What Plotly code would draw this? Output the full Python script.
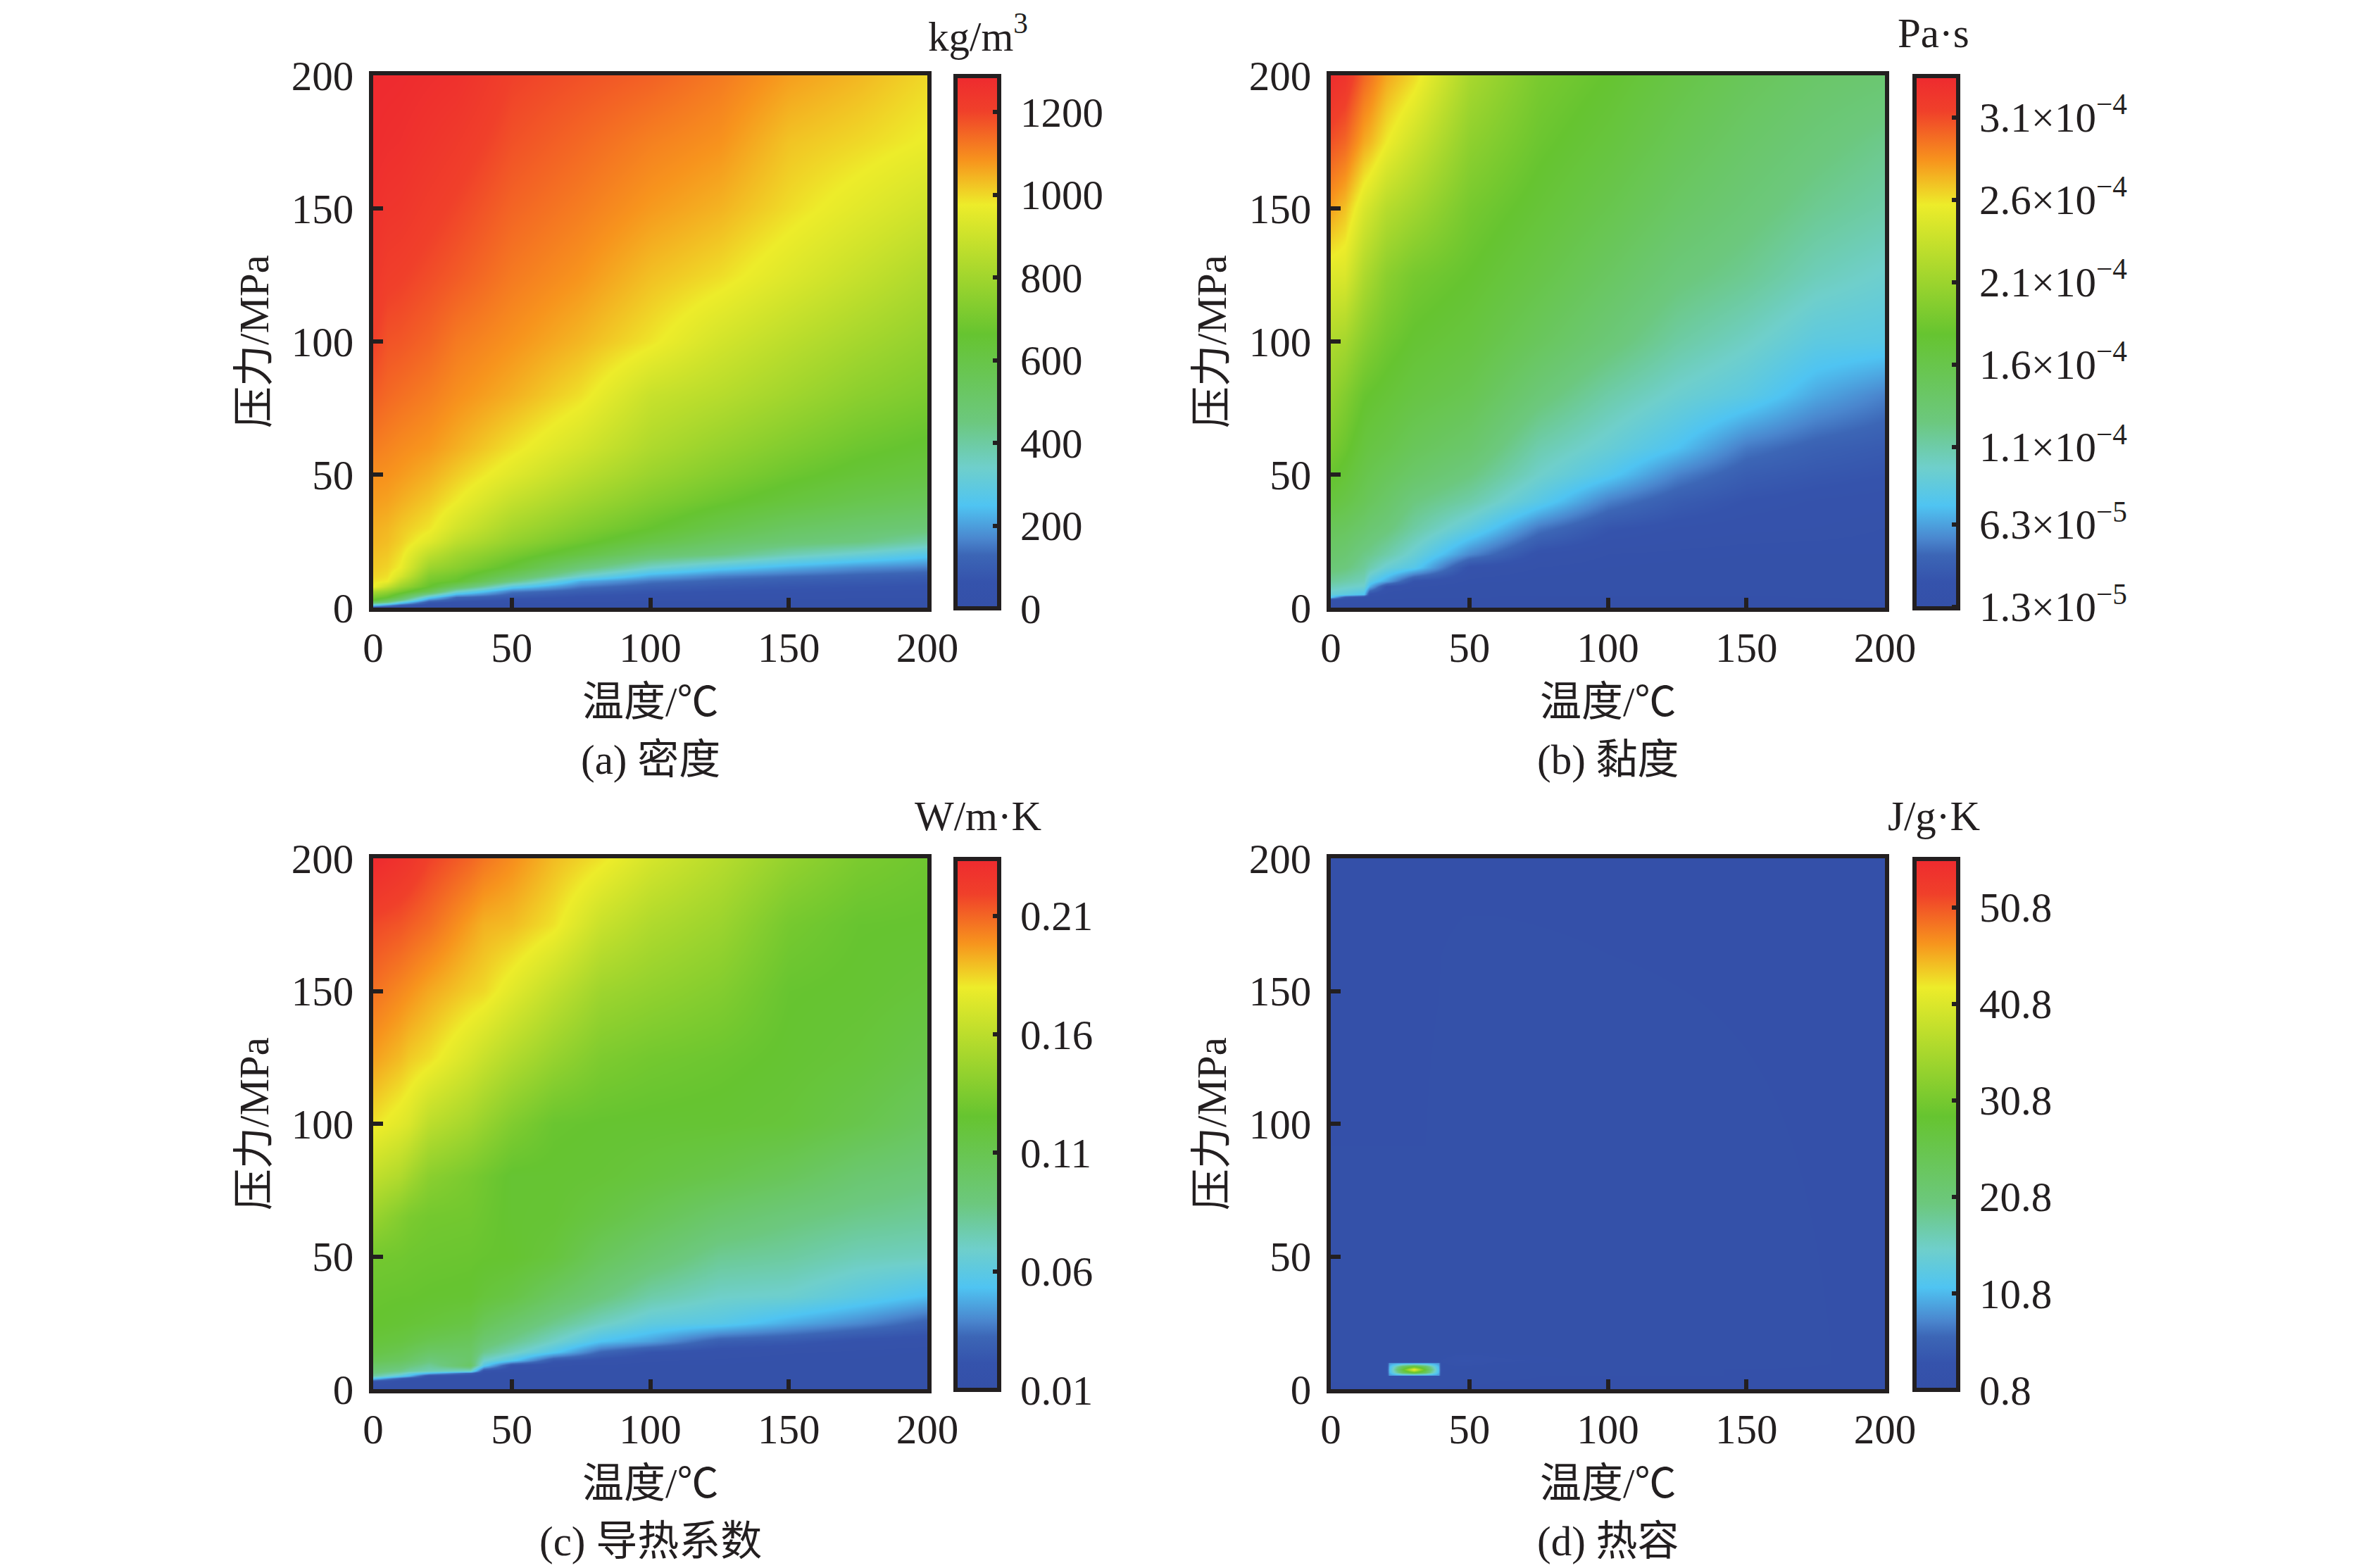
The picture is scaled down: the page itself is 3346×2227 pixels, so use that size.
import numpy as np
import plotly.graph_objects as go

W = 3346
H = 2227
M = 100
INK = "#231F20"
FONT = "Liberation Serif, Noto Sans CJK SC"

# colour ramp
ramp = [
    [0.0, "#3450A8"], [0.05, "#3553AC"], [0.10, "#3C66B6"], [0.13, "#4A86CE"],
    [0.193, "#4FC4F2"], [0.265, "#6FCFCB"], [0.35, "#6CC87E"], [0.515, "#66C430"],
    [0.758, "#EDEC2A"], [0.841, "#F7941D"], [0.934, "#F0402A"], [1.0, "#EE2A2F"],
]

# (a) density, kg/m3, one list per temperature
density_t = [0, 5, 10, 20, 30, 50, 75, 100, 125, 150, 175, 200]
density_p = [0, 1, 2, 3, 4, 6, 8, 10, 12, 15, 20, 25, 30, 40, 50, 60, 80, 100, 125, 150, 175, 200]
density_cols = [
    [30, 290, 520, 663, 715, 820, 976, 990, 1005, 1018, 1030, 1042, 1050, 1072, 1090, 1115, 1160, 1202, 1235, 1260, 1278, 1287],
    [25, 200, 450, 550, 663, 770, 880, 976, 990, 1005, 1020, 1032, 1040, 1065, 1085, 1105, 1145, 1175, 1212, 1245, 1270, 1285],
    [20, 120, 300, 450, 555, 700, 790, 860, 920, 970, 990, 1010, 1020, 1050, 1075, 1095, 1135, 1170, 1205, 1240, 1265, 1282],
    [15, 40, 90, 170, 280, 560, 663, 700, 730, 790, 870, 945, 985, 1020, 1050, 1078, 1115, 1150, 1185, 1215, 1245, 1270],
    [12, 30, 60, 90, 130, 340, 530, 663, 690, 745, 800, 865, 915, 976, 1015, 1050, 1090, 1120, 1165, 1195, 1225, 1260],
    [10, 20, 40, 60, 85, 150, 280, 450, 540, 640, 710, 770, 810, 880, 945, 990, 1050, 1085, 1120, 1150, 1178, 1202],
    [9, 18, 30, 45, 60, 100, 150, 220, 340, 470, 610, 685, 730, 800, 860, 915, 990, 1040, 1082, 1115, 1145, 1178],
    [8, 15, 25, 38, 50, 75, 105, 150, 215, 340, 500, 600, 663, 730, 785, 830, 890, 985, 1030, 1075, 1110, 1155],
    [7, 14, 22, 33, 45, 65, 85, 120, 160, 270, 450, 525, 590, 675, 730, 775, 850, 915, 995, 1045, 1085, 1120],
    [7, 13, 20, 30, 40, 58, 75, 100, 135, 220, 375, 480, 530, 625, 680, 725, 800, 860, 940, 995, 1025, 1070],
    [6, 12, 18, 27, 36, 52, 68, 90, 115, 180, 325, 450, 495, 580, 640, 680, 750, 810, 885, 950, 1000, 1040],
    [6, 11, 17, 25, 33, 48, 62, 80, 100, 160, 270, 390, 470, 550, 610, 650, 715, 765, 830, 905, 970, 1000],
]

# (b) viscosity, 1e-5 Pa s
viscosity_t = [0, 5, 12, 14, 20, 30, 50, 75, 100, 125, 150, 175, 200]
viscosity_p = [0, 3, 4, 5, 8, 10, 15, 20, 30, 40, 50, 60, 80, 100, 125, 150, 175, 200]
viscosity_cols = [
    [1.3, 2.0, 7.5, 9, 10.5, 11.5, 13, 13.8, 15, 16.8, 18, 19, 20.5, 22, 24.8, 28, 30.7, 33.2],
    [1.3, 1.6, 3.5, 8.5, 10, 11, 12.6, 13.4, 14.7, 16.2, 17.3, 18.2, 19.5, 21.5, 24.6, 27, 30, 32.5],
    [1.3, 1.5, 2, 7.5, 9.5, 10.3, 11.5, 12.2, 13.8, 15.2, 16, 16.8, 18, 19.8, 22, 24.5, 27.7, 30],
    [1.3, 1.5, 1.8, 2.5, 6.8, 8.5, 10.8, 12, 13.4, 14.8, 15.7, 16.5, 17.8, 19.4, 21.5, 24, 27.3, 29.5],
    [1.3, 1.4, 1.6, 1.8, 2.6, 6.5, 9.3, 11, 12.8, 14, 15, 16, 17.3, 18.5, 20, 22.5, 25.7, 27.8],
    [1.3, 1.4, 1.5, 1.6, 2, 2.8, 8, 9.3, 11.2, 12.5, 14, 15, 16.5, 17.6, 18.8, 21.3, 23.8, 26.3],
    [1.3, 1.4, 1.5, 1.5, 1.7, 1.9, 2.5, 5.5, 8.7, 11, 12.5, 13.8, 15.5, 16.7, 17.8, 18.8, 20.2, 21.7],
    [1.3, 1.4, 1.4, 1.5, 1.6, 1.7, 2, 2.5, 5, 8.2, 9.8, 10.8, 13, 14.8, 16.2, 17.3, 18.2, 19],
    [1.3, 1.4, 1.4, 1.5, 1.6, 1.6, 1.8, 2, 3, 5.2, 7.8, 9.2, 11, 13, 14.5, 15.8, 16.9, 17.8],
    [1.3, 1.4, 1.4, 1.5, 1.6, 1.6, 1.7, 1.9, 2.5, 3.6, 5.3, 7.4, 9.5, 11.2, 12.8, 14.2, 15.3, 16.3],
    [1.3, 1.4, 1.4, 1.5, 1.6, 1.6, 1.7, 1.8, 2.3, 2.8, 3.7, 5, 8.4, 10, 11.8, 13, 14, 15],
    [1.4, 1.4, 1.5, 1.5, 1.6, 1.6, 1.7, 1.8, 2.2, 2.5, 3.2, 4, 6.5, 8.5, 10.4, 11.8, 12.9, 14],
    [1.4, 1.5, 1.5, 1.5, 1.6, 1.6, 1.7, 1.8, 2, 2.3, 2.9, 3.5, 5.3, 8.2, 9.6, 11, 12, 13.4],
]

# (c) thermal conductivity, W/m K
conductivity_t = [0, 10, 13, 20, 35, 40, 50, 65, 82, 100, 125, 150, 175, 200]
conductivity_p = [0, 3, 4, 5, 6, 7, 9, 11, 14, 18, 25, 35, 50, 65, 80, 100, 125, 150, 175, 200]
conductivity_cols = [
    [.012, .020, .052, .080, .088, .092, .100, .108, .115, .120, .125, .127, .131, .146, .162, .182, .196, .207, .217, .234],
    [.012, .014, .025, .058, .075, .085, .095, .103, .110, .117, .123, .126, .130, .137, .155, .175, .190, .201, .214, .228],
    [.012, .013, .018, .050, .065, .080, .090, .100, .107, .115, .122, .126, .129, .134, .150, .172, .187, .199, .212, .226],
    [.012, .013, .014, .018, .052, .075, .082, .090, .100, .110, .120, .125, .128, .131, .140, .160, .183, .194, .208, .219],
    [.012, .012, .013, .014, .030, .070, .100, .098, .100, .105, .115, .124, .127, .130, .133, .150, .170, .186, .196, .210],
    [.012, .012, .013, .013, .014, .020, .058, .070, .085, .095, .107, .120, .126, .128, .130, .145, .165, .184, .192, .206],
    [.012, .012, .013, .013, .014, .015, .020, .056, .073, .085, .098, .115, .125, .124, .124, .136, .156, .175, .190, .200],
    [.012, .012, .012, .013, .013, .014, .016, .024, .056, .070, .085, .102, .119, .123, .124, .127, .145, .162, .182, .190],
    [.012, .012, .012, .013, .013, .014, .015, .019, .032, .053, .072, .090, .105, .116, .122, .125, .135, .148, .165, .182],
    [.012, .012, .012, .013, .013, .013, .014, .016, .022, .045, .062, .078, .095, .108, .118, .124, .131, .143, .155, .170],
    [.012, .012, .012, .012, .013, .013, .014, .015, .018, .028, .058, .070, .083, .097, .112, .123, .128, .137, .147, .158],
    [.012, .012, .012, .012, .012, .013, .013, .014, .016, .025, .048, .068, .080, .090, .105, .120, .124, .126, .132, .144],
    [.012, .012, .012, .012, .012, .012, .013, .014, .015, .019, .040, .060, .074, .085, .095, .112, .120, .124, .126, .134],
    [.012, .012, .012, .012, .012, .012, .013, .013, .014, .017, .030, .052, .072, .082, .090, .103, .113, .120, .125, .129],
]

# (d) heat capacity, J/g K, nearly flat apart from the spike near 30 C, 7 MPa
capacity_t = [0, 20, 21, 26, 30, 34, 39, 40, 48, 60, 100, 200]
capacity_p = [0, 5, 5.4, 6.5, 7.3, 8.5, 9.8, 10.3, 11, 14, 200]
capacity_cols = [
    [1.2, 1.3, 1.3, 1.3, 1.3, 1.3, 1.3, 1.3, 1.3, 1.3, 1.2],
    [1.2, 1.4, 1.6, 1.8, 1.8, 1.7, 1.5, 1.4, 1.3, 1.3, 1.2],
    [1.2, 1.5, 9, 10.5, 11, 10.5, 9, 1.6, 1.4, 1.3, 1.2],
    [1.2, 1.8, 10, 24, 28, 24, 10, 1.8, 1.4, 1.3, 1.2],
    [1.2, 1.8, 10, 30, 43, 30, 10, 1.8, 1.5, 1.3, 1.2],
    [1.2, 1.8, 10, 24, 28, 24, 10, 1.8, 1.5, 1.3, 1.2],
    [1.2, 1.6, 9, 10.5, 11, 10.5, 9, 2, 1.8, 1.4, 1.2],
    [1.2, 1.5, 1.7, 1.8, 1.9, 2, 2, 2.2, 2.2, 1.5, 1.2],
    [1.2, 1.4, 1.5, 1.6, 1.7, 2, 2.8, 3.3, 3.4, 1.7, 1.2],
    [1.2, 1.3, 1.4, 1.4, 1.5, 1.6, 1.9, 2.2, 2.4, 1.7, 1.2],
    [1.2, 1.2, 1.3, 1.3, 1.3, 1.4, 1.5, 1.5, 1.5, 1.5, 1.2],
    [1.2, 1.2, 1.2, 1.2, 1.2, 1.2, 1.2, 1.2, 1.2, 1.2, 1.2],
]

axis_ticks = [0, 50, 100, 150, 200]

density_ticks = [0, 200, 400, 600, 800, 1000, 1200]
density_labels = ["0", "200", "400", "600", "800", "1000", "1200"]
viscosity_ticks = [1.3, 6.3, 11, 16, 21, 26, 31]
viscosity_labels = ["1.3×10<sup>−5</sup>", "6.3×10<sup>−5</sup>", "1.1×10<sup>−4</sup>", "1.6×10<sup>−4</sup>",
                    "2.1×10<sup>−4</sup>", "2.6×10<sup>−4</sup>", "3.1×10<sup>−4</sup>"]
conductivity_ticks = [0.01, 0.06, 0.11, 0.16, 0.21]
conductivity_labels = ["0.01", "0.06", "0.11", "0.16", "0.21"]
capacity_ticks = [0.8, 10.8, 20.8, 30.8, 40.8, 50.8]
capacity_labels = ["0.8", "10.8", "20.8", "30.8", "40.8", "50.8"]


# pixel position on the page to paper fraction, the margins keep colorbars from shrinking the plot
def px_x(x):
    return (x - M) / (W - 2 * M)


def px_y(y):
    return 1 - (y - M) / (H - 2 * M)


fig = go.Figure()

# every panel: name, grid, values, colour limits, bar ticks, unit, caption, frame in pixels
panels = [
    ("", density_t, density_p, density_cols, 0, 1287, density_ticks, density_labels,
     "kg/m<sup>3</sup>", "(a) 密度", 530, 1317, 107, 863, 1357, 1389),
    ("2", viscosity_t, viscosity_p, viscosity_cols, 1.2, 33.5, viscosity_ticks, viscosity_labels,
     "Pa·s", "(b) 黏度", 1890, 2677, 107, 863, 2719, 2746),
    ("3", conductivity_t, conductivity_p, conductivity_cols, 0.01, 0.234, conductivity_ticks, conductivity_labels,
     "W/m·K", "(c) 导热系数", 530, 1317, 1219, 1973, 1357, 1389),
    ("4", capacity_t, capacity_p, capacity_cols, 0.8, 55.8, capacity_ticks, capacity_labels,
     "J/g·K", "(d) 热容", 1890, 2677, 1219, 1973, 2719, 2746),
]

for name, t, p, cols, zmin, zmax, ticks, labels, unit, caption, x0, x1, y0, y1, bar_x, unit_x in panels:
    fig.add_trace(go.Heatmap(
        x=t, y=p, z=np.array(cols).T,
        xaxis="x" + name, yaxis="y" + name,
        zmin=zmin, zmax=zmax, zsmooth="best", colorscale=ramp,
        colorbar=dict(
            x=px_x(bar_x), xanchor="left", xpad=0,
            y=px_y(y1 + 1), yanchor="bottom", ypad=0,
            len=(y1 - y0) / (H - 2 * M), lenmode="fraction", thickness=62,
            outlinewidth=6, outlinecolor=INK, borderwidth=0,
            tickmode="array", tickvals=ticks, ticktext=["\u00a0" + s for s in labels],
            ticks="inside", ticklen=12, tickwidth=6, tickcolor=INK,
            tickfont=dict(family=FONT, size=59, color=INK),
        ),
    ))
    axis = dict(
        range=[0, 200], tickmode="array", tickvals=axis_ticks,
        ticks="inside", ticklen=14, tickwidth=6, tickcolor=INK,
        showline=True, linewidth=6, linecolor=INK, mirror=True,
        showgrid=False, zeroline=False,
        tickfont=dict(family=FONT, size=59, color=INK),
    )
    fig.update_layout({
        "xaxis" + name: dict(axis, domain=[px_x(x0), px_x(x1)], anchor="y" + name),
        "yaxis" + name: dict(axis, domain=[px_y(y1), px_y(y0)], anchor="x" + name, ticklabelstandoff=10),
    })
    mid = (x0 + x1) / 2
    for text, ax, ay, angle in [
        ("温度/℃", mid, y1 + 134, 0),
        (caption, mid, y1 + 216, 0),
        ("压力/MPa", x0 - 169, (y0 + y1) / 2, -90),
        (unit, unit_x, y0 - 60, 0),
    ]:
        fig.add_annotation(
            text=text, x=px_x(ax), y=px_y(ay), xref="paper", yref="paper",
            xanchor="center", yanchor="middle", showarrow=False, textangle=angle,
            font=dict(family=FONT, size=59, color=INK),
        )

fig.update_layout(
    width=W, height=H,
    margin=dict(l=M, r=M, t=M, b=M),
    paper_bgcolor="white", plot_bgcolor="white",
)

fig.write_html("out.html", config={"displayModeBar": False}, post_script="document.body.style.margin='0';")
